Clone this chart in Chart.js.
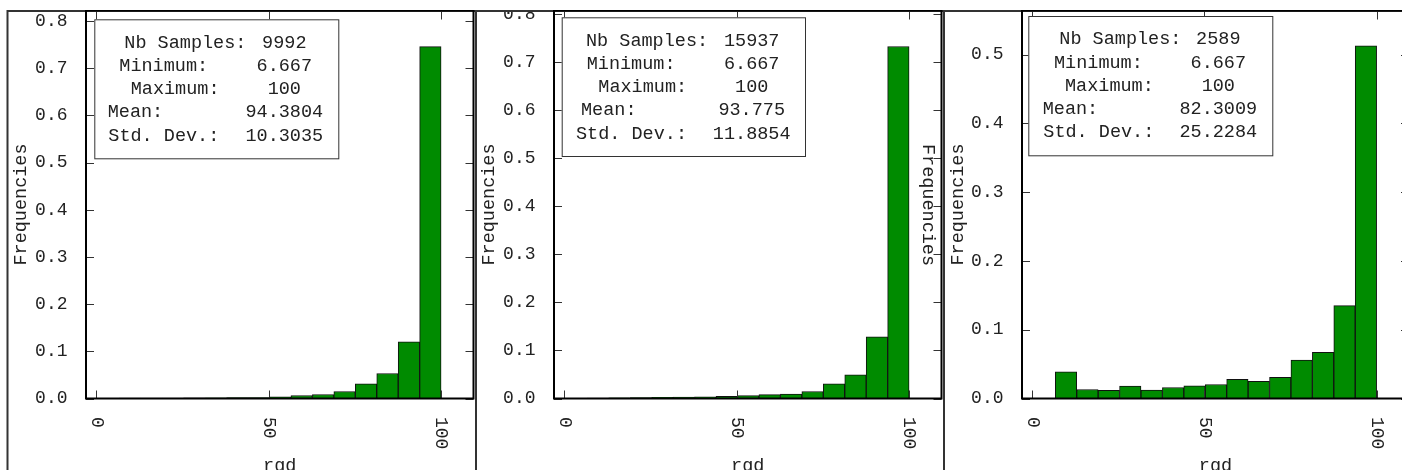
<!DOCTYPE html>
<html>
<head>
<meta charset="utf-8">
<title>rgd histograms</title>
<script src="https://cdn.jsdelivr.net/npm/chart.js@4.4.1/dist/chart.umd.min.js"></script>
<style>
  html, body { margin: 0; padding: 0; background: #fff; overflow: hidden; }
  body { width: 1402px; height: 470px; position: relative; }
  canvas { position: absolute; top: 10px; }
</style>
</head>
<body>
<canvas id="rgd1" width="476" height="470" style="left:0px"></canvas>
<canvas id="rgd2" width="470" height="470" style="left:474px"></canvas>
<canvas id="rgd3" width="470" height="470" style="left:942px"></canvas>
<script>
// histogram bin edges (15 bins between min 6.667 and max 100)
const binEdges = [6.667, 12.889, 19.111, 25.333, 31.556, 37.778, 44.0, 50.222, 56.444, 62.667, 68.889, 75.111, 81.333, 87.556, 93.778, 100];

const freqA = [0.0008, 0.0008, 0.0010, 0.0012, 0.0015, 0.0018, 0.0022, 0.0034, 0.0064, 0.0085, 0.0148, 0.0311, 0.0530, 0.1201, 0.7456];
const freqB = [0.0010, 0.0013, 0.0020, 0.0025, 0.0030, 0.0035, 0.0046, 0.0060, 0.0080, 0.0093, 0.0146, 0.0306, 0.0493, 0.1285, 0.7333];
const freqC = [0.0388, 0.0131, 0.0117, 0.0180, 0.0121, 0.0160, 0.0184, 0.0204, 0.0277, 0.0248, 0.0306, 0.0558, 0.0670, 0.1350, 0.5126];

const xTicks = [0, 50, 100];
const yTicksA = [0, 0.1, 0.2, 0.3, 0.4, 0.5, 0.6, 0.7, 0.8];
const yTicksB = [0, 0.1, 0.2, 0.3, 0.4, 0.5, 0.6, 0.7, 0.8];
const yTicksC = [0, 0.1, 0.2, 0.3, 0.4, 0.5];

const statLabels = ['Nb Samples:', 'Minimum:', 'Maximum:', 'Mean:', 'Std. Dev.:'];
const statsA = ['9992', '6.667', '100', '94.3804', '10.3035'];
const statsB = ['15937', '6.667', '100', '93.775', '11.8854'];
const statsC = ['2589', '6.667', '100', '82.3009', '25.2284'];

const FONT = "'Liberation Mono', 'DejaVu Sans Mono', monospace";
Chart.defaults.font.family = FONT;
Chart.defaults.color = '#222';

const binCenters = binEdges.slice(0, -1).map((e, i) => (e + binEdges[i + 1]) / 2);

// frame, inward ticks, rotated x labels and the stats box
const panelDecor = {
  id: 'panelDecor',
  afterDraw(chart, args, opts) {
    const { ctx, chartArea: a, scales: { x, y } } = chart;
    ctx.save();

    ctx.strokeStyle = '#333';
    ctx.lineWidth = 2;
    ctx.beginPath();
    ctx.moveTo(opts.frameX, chart.height);
    ctx.lineTo(opts.frameX, 1);
    ctx.lineTo(chart.width, 1);
    ctx.stroke();

    ctx.strokeStyle = '#333';
    ctx.lineWidth = 1;
    ctx.beginPath();
    y.ticks.forEach(t => {
      const py = Math.round(y.getPixelForValue(t.value)) + 0.5;
      ctx.moveTo(a.left, py); ctx.lineTo(a.left + 8, py);
      ctx.moveTo(a.right - 8, py); ctx.lineTo(a.right, py);
    });
    x.ticks.forEach(t => {
      const px = Math.round(x.getPixelForValue(t.value)) + 0.5;
      ctx.moveTo(px, a.top); ctx.lineTo(px, a.top + 9);
      ctx.moveTo(px, a.bottom - 8); ctx.lineTo(px, a.bottom);
    });
    ctx.stroke();

    ctx.strokeStyle = '#000';
    ctx.lineWidth = 2;
    ctx.strokeRect(a.left, a.top, a.right - a.left, a.bottom - a.top);

    ctx.fillStyle = '#222';
    ctx.font = '18px ' + FONT;
    ctx.textAlign = 'left';
    ctx.textBaseline = 'middle';
    x.ticks.forEach(t => {
      ctx.save();
      ctx.translate(x.getPixelForValue(t.value), a.bottom + 18.5);
      ctx.rotate(Math.PI / 2);
      ctx.fillText(String(t.value), 0, 0);
      ctx.restore();
    });

    if (opts.sideText) {
      ctx.save();
      ctx.translate(opts.sideText.x, opts.sideText.y);
      ctx.rotate(Math.PI / 2);
      ctx.font = '18.5px ' + FONT;
      ctx.textAlign = 'center';
      ctx.fillText(opts.sideText.text, 0, 0);
      ctx.restore();
    }

    const b = opts.box;
    ctx.fillStyle = '#fff';
    ctx.fillRect(b.x, b.y, b.w, b.h);
    ctx.strokeStyle = '#333';
    ctx.lineWidth = 1;
    ctx.strokeRect(b.x + 0.5, b.y + 0.5, b.w, b.h);
    ctx.fillStyle = '#222';
    ctx.font = '18.5px ' + FONT;
    const rows = [23.5, 47, 70, 93.3, 116.5];
    statLabels.forEach((lab, i) => {
      ctx.textAlign = 'left';
      ctx.fillText(lab, b.x + b.labelX[i], b.y + rows[i]);
      ctx.textAlign = 'center';
      ctx.fillText(opts.values[i], b.x + 190, b.y + rows[i]);
    });

    ctx.restore();
  }
};

function makePanel(id, freq, yMax, yTicks, values, lay) {
  return new Chart(document.getElementById(id), {
    type: 'bar',
    data: {
      datasets: [{
        data: binCenters.map((c, i) => ({ x: c, y: freq[i] })),
        backgroundColor: '#008b00',
        borderColor: '#111',
        borderWidth: 1,
        barPercentage: 1,
        categoryPercentage: 1
      }]
    },
    options: {
      responsive: false,
      animation: false,
      events: [],
      layout: { padding: { top: 0.5, right: lay.padRight, bottom: 0, left: 0 } },
      scales: {
        x: {
          type: 'linear',
          min: -3,
          max: 109.4,
          offset: false,
          afterBuildTicks: s => { s.ticks = xTicks.map(v => ({ value: v })); },
          afterFit: s => { s.height = 81.5; s.paddingLeft = 0; s.paddingRight = 0; },
          ticks: { display: false },
          grid: { display: false, drawTicks: false },
          border: { display: false },
          title: {
            display: true,
            text: 'rgd',
            font: { size: 18.5, lineHeight: 1 },
            padding: { top: 0, bottom: 4.75 }
          }
        },
        y: {
          type: 'linear',
          min: 0,
          max: yMax,
          afterBuildTicks: s => { s.ticks = yTicks.map(v => ({ value: v })); },
          afterFit: s => { s.width = lay.yWidth; s.paddingTop = 0; s.paddingBottom = 0; },
          ticks: {
            padding: 18.5,
            font: { size: 18, lineHeight: 1 },
            callback: v => v.toFixed(1)
          },
          grid: { display: false, drawTicks: false },
          border: { display: false },
          title: {
            display: true,
            text: 'Frequencies',
            font: { size: 18.5, lineHeight: 1 },
            padding: { top: lay.titleX - 9.25, bottom: 0 }
          }
        }
      },
      plugins: {
        legend: { display: false },
        tooltip: { enabled: false },
        panelDecor: { frameX: lay.frameX, box: lay.box, values: values, sideText: lay.sideText }
      }
    },
    plugins: [panelDecor]
  });
}

makePanel('rgd1', freqA, 0.8222, yTicksA, statsA, {
  padRight: 2.5, yWidth: 86, titleX: 20.7, frameX: 7.5,
  box: { x: 94.3, y: 9.3, w: 244, h: 139, labelX: [30, 25, 36.4, 13.4, 14] }
});
makePanel('rgd2', freqB, 0.8083, yTicksB, statsB, {
  padRight: 2.5, yWidth: 80, titleX: 15, frameX: 2,
  box: { x: 87.7, y: 7.3, w: 243.3, h: 138.7, labelX: [24.3, 25, 36.6, 19.3, 14.3] },
  sideText: { text: 'Frequencies', x: 454.3, y: 195 }
});
makePanel('rgd3', freqC, 0.564, yTicksC, statsC, {
  padRight: 3, yWidth: 80, titleX: 15.7, frameX: 2,
  box: { x: 86.3, y: 6, w: 244, h: 139.3, labelX: [31, 25.7, 36.7, 14.4, 15] }
});
</script>
</body>
</html>
